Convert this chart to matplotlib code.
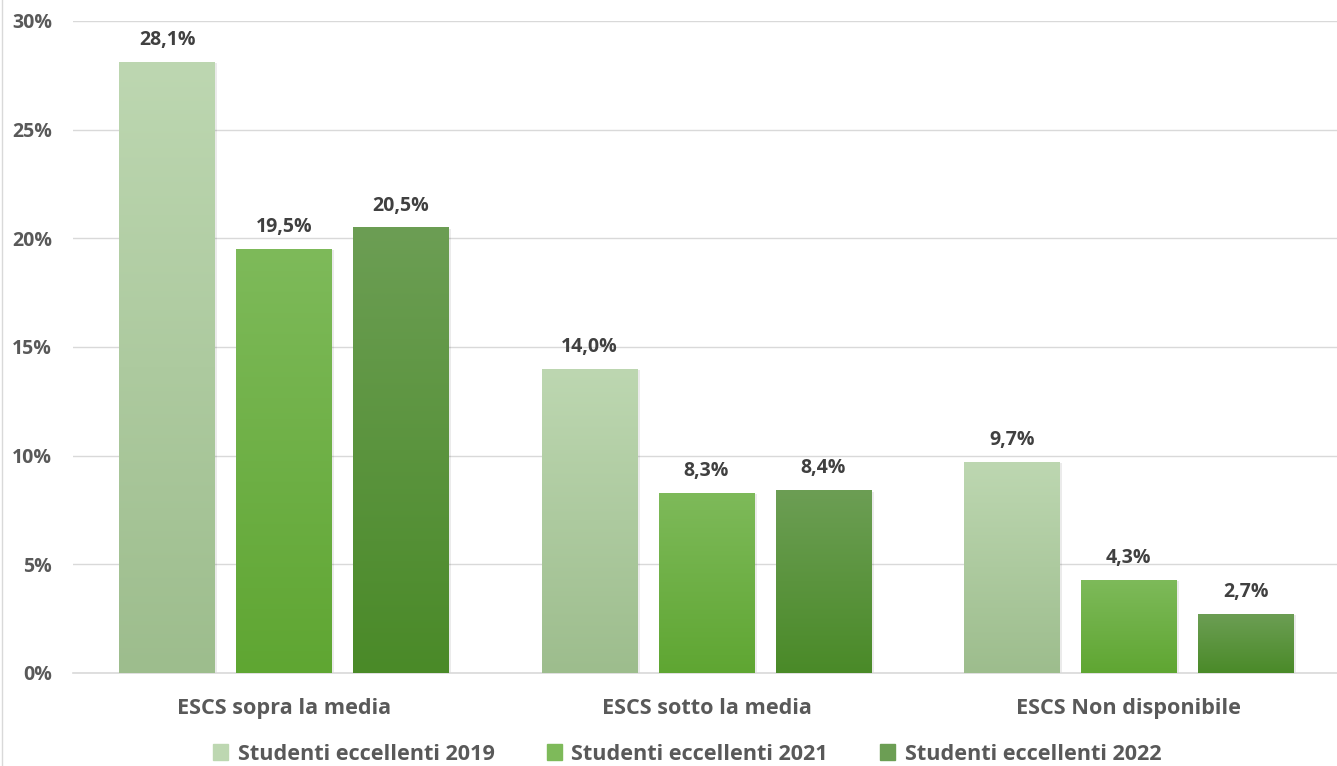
import matplotlib.pyplot as plt
import numpy as np
from matplotlib.colors import LinearSegmentedColormap
from matplotlib.patches import Rectangle
from matplotlib.ticker import FuncFormatter

plt.rcParams['font.family'] = ['Open Sans', 'DejaVu Sans']

# -----------------------------
# Data
# -----------------------------
categories = ["ESCS sopra la media", "ESCS sotto la media", "ESCS Non disponibile"]
series = ["Studenti eccellenti 2019", "Studenti eccellenti 2021", "Studenti eccellenti 2022"]
v2019 = [28.1, 14.0, 9.7]
v2021 = [19.5, 8.3, 4.3]
v2022 = [20.5, 8.4, 2.7]
values = [v2019, v2021, v2022]

# gradient (top, bottom) for each series
gradients = [("#bdd7b1", "#9dbd8d"), ("#7eba5a", "#5fa632"), ("#6c9e54", "#4a8a28")]

TEXT = "#595959"
LABEL = "#404040"

fig = plt.figure(figsize=(13.37, 7.66), dpi=100)
ax = fig.add_axes([73 / 1337, 1 - 673 / 766, 1267 / 1337, 652 / 766])

x = np.arange(len(categories))
width = 0.227
offset = 0.277

grad = np.linspace(1, 0, 256).reshape(-1, 1)

for i, (vals, (top, bottom)) in enumerate(zip(values, gradients)):
    cmap = LinearSegmentedColormap.from_list(f"g{i}", [bottom, top])
    xs = x + (i - 1) * offset
    bars = ax.bar(xs, vals, width, color="none", label=series[i], zorder=3)
    for b, v in zip(bars, vals):
        bx, bw = b.get_x(), b.get_width()
        # faint shadow
        ax.add_patch(Rectangle((bx + 0.005, 0), bw, v - 0.05, color="#000000",
                               alpha=0.08, lw=0, zorder=2))
        im = ax.imshow(grad, extent=[bx, bx + bw, 0, v], aspect="auto",
                       cmap=cmap, zorder=3, interpolation="bicubic")
        im.set_clip_path(b)
        ax.text(b.get_x() + bw / 2, v + 0.55, f"{v:.1f}%".replace(".", ","),
                ha="center", va="bottom", fontsize=14, fontweight="bold", color=LABEL)

ax.set_xlim(-0.5, 2.5)
ax.set_ylim(0, 30)
ax.set_yticks(np.arange(0, 31, 5))
ax.yaxis.set_major_formatter(FuncFormatter(lambda v, p: f"{v:.0f}%"))
ax.set_xticks(x)
ax.set_xticklabels(categories)
ax.grid(axis="y", color="#d9d9d9", lw=1, zorder=0)
for s in ["top", "right", "left"]:
    ax.spines[s].set_visible(False)
ax.spines["bottom"].set_color("#d9d9d9")
ax.spines["bottom"].set_linewidth(1.2)
ax.tick_params(axis="both", length=0, colors=TEXT)
ax.tick_params(axis="y", pad=15)
ax.tick_params(axis="x", pad=18)
for t in ax.get_yticklabels():
    t.set_fontsize(14)
    t.set_fontweight("bold")
for t in ax.get_xticklabels():
    t.set_fontsize(15.6)
    t.set_fontweight("bold")

# legend with solid squares
handles = [Rectangle((0, 0), 1, 1, color=g[0]) for g in gradients]
leg = fig.legend(handles, series, loc="center", bbox_to_anchor=(0.514, 1 - 754 / 766),
                 ncol=3, frameon=False, handlelength=0.7, handleheight=0.7,
                 columnspacing=2.4, handletextpad=0.45,
                 prop={"size": 15.6, "weight": "bold"})
for t in leg.get_texts():
    t.set_color(TEXT)

# faint outer border on left
fig.add_artist(plt.Line2D([2 / 1337, 2 / 1337], [0, 1], color="#d9d9d9", lw=1))

fig.savefig("out.png", dpi=100)
